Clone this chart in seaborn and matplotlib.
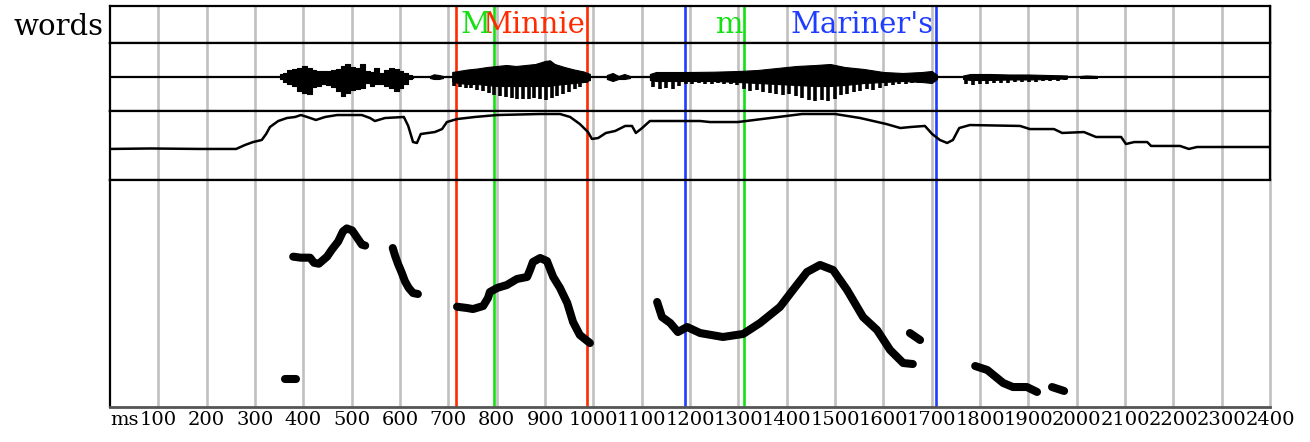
import numpy as np
import pandas as pd
import matplotlib
matplotlib.use("Agg")
import matplotlib.pyplot as plt
import seaborn as sns

sns.set_theme(style="white")
plt.rcParams["font.family"] = ["DejaVu Serif"]

# ---- time axis -------------------------------------------------------------
tick_ms = list(range(0, 2401, 100))
tick_labels = ["ms"] + [str(v) for v in range(100, 2401, 100)]

# ---- annotation tiers (ms) --------------------------------------------------
word_labels = ["Minnie", "Mariner's"]
word_start = [716, 1190]
word_end = [987, 1709]
word_label_end = [983, 1705]
phone_labels = ["M", "m"]
phone_end = [795, 1312]
phone_label_end = [786, 1310]

RED, GREEN, BLUE = "#ff2a00", "#14e014", "#1f3dff"
word_colors = [RED, BLUE]

# ---- waveform: envelope (upper / lower body) per voiced stretch -------------
wave_pre_t = [352, 362, 372, 382, 392, 402, 412, 422, 432, 442, 452, 462, 472, 482, 492,
              502, 512, 522, 532, 542, 552, 562, 572, 582, 592, 602, 612, 622, 627]
wave_pre_up = [2.7, 4.5, 6.7, 8, 9, 11, 9, 7, 6, 6, 6, 7, 8, 11, 12.7,
               10, 9, 13, 6, 5, 9, 4, 7, 9, 7.7, 6, 4, 2, 1]
wave_pre_lo = [2, 4.5, 7, 9, 14, 15.7, 17, 10, 9, 7, 8, 10, 14, 19, 15.7,
               13, 12, 10.7, 6, 9, 7, 6.7, 9, 10.7, 14, 11, 7, 2, 1]

wave_minnie_t = [708, 720, 740, 760, 780, 800, 820, 840, 860, 880, 900, 910, 920, 940, 960, 980, 993]
wave_minnie_up = [5, 6, 7.5, 8.5, 10, 11, 12, 11, 12, 13, 16, 16.7, 13, 10, 7.5, 5.5, 3]
wave_minnie_lo = [4, 6, 7, 7, 8, 9, 9, 9, 9, 9, 9, 9, 8, 7, 6, 5, 3]

wave_mariner_t = [1117, 1130, 1160, 1200, 1250, 1300, 1340, 1380, 1420, 1460, 1490,
                  1520, 1560, 1600, 1640, 1680, 1700, 1711]
wave_mariner_up = [3, 5, 5, 5, 5.3, 6, 7, 9, 11, 12, 13, 10, 8, 5, 4, 5, 6, 2]
wave_mariner_lo = [3, 4, 4, 4, 4, 5, 6, 7, 8, 9, 9, 8, 6, 5, 4, 5, 6, 2]

wave_post_t = [1765, 1780, 1820, 1860, 1900, 1940, 1980]
wave_post_up = [1.5, 3, 3, 2.5, 2.5, 2, 1.5]
wave_post_lo = [2, 3, 3, 2.5, 2.5, 2, 1.5]

wave_blip1_t, wave_blip1_up, wave_blip1_lo = [662, 670, 680, 689], [1, 2.7, 2, 1], [1, 2, 2, 1]
wave_blip2_t, wave_blip2_up, wave_blip2_lo = [1028, 1040, 1052, 1064, 1076], [2, 4, 1, 3, 1], [2, 4, 2, 2, 1]
wave_blip3_t, wave_blip3_up, wave_blip3_lo = [2007, 2020, 2042], [1, 1.5, 1], [1, 1, 1]

# glottal pulse depths (negative peaks) across each vowel stretch
pulse_minnie_span = (712, 985)
pulse_minnie = [9, 10, 11, 11, 13, 14, 16, 18, 19, 20, 21, 22, 22, 22, 21, 22, 23, 21, 19, 17, 15, 12, 10, 6]
pulse_mariner_span = (1124, 1700)
pulse_mariner = [10, 12, 11, 12, 9, 7, 7, 6, 7, 7, 6, 7, 7, 8, 12, 14, 13, 15, 16, 17, 18, 17,
                 19, 21, 23, 24, 23, 24, 22, 18, 17, 15, 14, 12, 13, 11, 9, 8, 7, 7, 6, 6, 5, 4]
pulse_post_span = (1770, 1975)
pulse_post = [7, 8, 7, 7, 6, 6, 6, 5, 5, 5, 5, 4, 4, 4, 3]

# ---- intensity (dB) ----------------------------------------------------------
int_t = [0, 83, 186, 261, 279, 296, 314, 323, 331, 348, 366, 383, 395, 408, 426, 445, 470, 521,
         538, 548, 569, 608, 617, 627, 635, 643, 672, 687, 697, 718, 755, 801, 890, 931, 952,
         972, 989, 997, 1010, 1026, 1045, 1066, 1080, 1088, 1101, 1117, 1221, 1241, 1299, 1366,
         1432, 1500, 1552, 1606, 1635, 1657, 1686, 1701, 1717, 1732, 1744, 1757, 1779, 1883,
         1903, 1953, 1970, 2015, 2040, 2092, 2102, 2119, 2146, 2154, 2214, 2232, 2249, 2400]
int_db = [57.0, 57.4, 57.0, 57.0, 60.4, 63.0, 64.8, 70.0, 76.1, 81.3, 83.9, 84.8, 86.5, 84.8,
          82.2, 84.8, 86.5, 86.5, 83.9, 81.3, 83.9, 84.8, 77.0, 63.0, 62.2, 70.0, 71.7, 74.3,
          80.4, 83.0, 84.8, 86.5, 87.4, 87.4, 84.8, 78.7, 71.7, 65.7, 66.5, 70.9, 72.6, 77.0,
          77.0, 70.9, 75.2, 81.3, 81.3, 80.4, 80.4, 83.9, 87.4, 87.4, 83.9, 78.7, 75.2, 76.1,
          77.0, 70.0, 64.8, 62.2, 64.8, 75.2, 77.8, 77.0, 74.3, 74.3, 70.9, 71.7, 67.4, 67.4,
          61.3, 63.0, 63.0, 59.6, 59.6, 57.0, 58.7, 58.7]

# ---- pitch track (Hz), one list per voiced run -------------------------------
f0_runs_t = [
    [362, 385],
    [379, 395, 414, 422, 432, 449, 459, 472, 482, 490, 501, 511, 521, 528],
    [585, 590, 596, 603, 610, 618, 627, 637],
    [718, 739, 751, 772, 782, 786, 801, 821, 842, 863, 869, 875, 890, 904, 917, 931, 946, 958, 972, 993],
    [1132, 1142, 1159, 1175, 1194, 1221, 1268, 1310, 1345, 1386, 1413, 1442, 1469, 1496, 1525,
     1558, 1587, 1614, 1641, 1661],
    [1655, 1676],
    [1790, 1815, 1848, 1868, 1897, 1918],
    [1949, 1974],
]
f0_runs_hz = [
    [102.8, 102.8],
    [224, 223, 223, 218, 217, 224, 231, 239, 249, 252, 250, 243, 236, 235],
    [232.6, 224.7, 216.7, 208.8, 199.9, 193, 188, 187],
    [174.4, 173.1, 172.1, 175.1, 183, 189, 193, 195.9, 201.9, 203.9, 210.8, 218.7, 222.7, 219.7,
     203.9, 193, 178.1, 159.3, 146.4, 138.4],
    [179.1, 164.2, 158.3, 149.3, 154.3, 148.3, 144.4, 147.4, 158.3, 174.1, 191, 208.8, 215.8,
     210.8, 191, 164.2, 151.3, 131.5, 118.6, 117.6],
    [148.3, 141.4],
    [115.6, 111.7, 98.8, 94.8, 94.8, 89.9],
    [94.8, 90.9],
]

pitch_df = pd.concat(
    [pd.DataFrame({"t": t, "hz": h, "run": i}) for i, (t, h) in enumerate(zip(f0_runs_t, f0_runs_hz))],
    ignore_index=True,
)
int_df = pd.DataFrame({"t": int_t, "db": int_db})

# ---- layout -------------------------------------------------------------------
W, H = 1310, 442
fig = plt.figure(figsize=(W / 100, H / 100), dpi=100)
fig.patch.set_facecolor("white")
L, R = 110 / W, 1270 / W


def panel(top_px, bottom_px):
    return fig.add_axes([L, 1 - bottom_px / H, R - L, (bottom_px - top_px) / H])


ax_words = panel(6, 43)
ax_wave = panel(43, 111)
ax_int = panel(111, 180)
ax_f0 = panel(180, 407)
axes = [ax_words, ax_wave, ax_int, ax_f0]

GRID = "#c0c0c0"
for ax in axes:
    ax.set_xlim(0, 2400)
    ax.set_facecolor("white")
    for v in tick_ms[1:]:
        ax.axvline(v, color=GRID, lw=1.9, zorder=0, clip_on=False)
    for s, e, c in zip(word_start, word_end, word_colors):
        ax.axvline(s, color=c, lw=1.9, zorder=1)
        ax.axvline(e, color=c, lw=1.9, zorder=1)
    for e in phone_end:
        ax.axvline(e, color=GREEN, lw=1.9, zorder=1)
    for sp in ax.spines.values():
        sp.set_color("black")
        sp.set_linewidth(1.6)

# words tier
ax_words.set_ylim(0, 1)
for lab, x, c in zip(word_labels, word_label_end, word_colors):
    ax_words.text(x, 0.27, lab, color=c, ha="right", va="baseline", fontsize=21, zorder=3)
for lab, x in zip(phone_labels, phone_label_end):
    ax_words.text(x, 0.27, lab, color=GREEN, ha="right", va="baseline", fontsize=21, zorder=3)
fig.text(103 / W, 1 - 27 / H, "words", ha="right", va="center", fontsize=21, color="black")

# waveform: finely sampled stretch drawn stepwise, smoother envelopes drawn linearly
ax_wave.set_ylim(-34, 34)
ax_wave.axhline(0, color="black", lw=1.6, zorder=2)
for t, up, lo, step in [
    (wave_pre_t, wave_pre_up, wave_pre_lo, "mid"),
    (wave_blip1_t, wave_blip1_up, wave_blip1_lo, None),
    (wave_minnie_t, wave_minnie_up, wave_minnie_lo, None),
    (wave_blip2_t, wave_blip2_up, wave_blip2_lo, None),
    (wave_mariner_t, wave_mariner_up, wave_mariner_lo, None),
    (wave_post_t, wave_post_up, wave_post_lo, None),
    (wave_blip3_t, wave_blip3_up, wave_blip3_lo, None),
]:
    ax_wave.fill_between(t, np.array(up), -np.array(lo), step=step, color="black", lw=0.8,
                         edgecolor="black", zorder=3)
for (a, b), depths in [(pulse_minnie_span, pulse_minnie),
                       (pulse_mariner_span, pulse_mariner),
                       (pulse_post_span, pulse_post)]:
    pt = np.linspace(a, b, len(depths))
    ax_wave.vlines(pt, -np.array(depths, dtype=float), 0, color="black", lw=2.6, zorder=3)

# intensity
ax_int.set_ylim(30, 90)
sns.lineplot(data=int_df, x="t", y="db", ax=ax_int, color="black", lw=1.8,
             estimator=None, sort=False, zorder=3)

# pitch
ax_f0.set_ylim(75, 300)
sns.lineplot(data=pitch_df, x="t", y="hz", units="run", estimator=None, sort=False,
             ax=ax_f0, color="black", lw=5.8, solid_capstyle="round",
             solid_joinstyle="round", zorder=3, legend=False)
ax_f0.spines["right"].set_visible(False)
ax_f0.spines["bottom"].set_color("#555555")
ax_f0.spines["bottom"].set_linewidth(2)

for ax in axes:
    ax.set_yticks([])
    ax.set_ylabel("")
    ax.set_xlabel("")
for ax in axes[:3]:
    ax.set_xticks([])

ax_f0.set_xticks(tick_ms)
ax_f0.set_xticklabels(tick_labels)
ax_f0.tick_params(axis="x", length=0, pad=3, labelsize=14, colors="black")
ax_f0.get_xticklabels()[0].set_horizontalalignment("left")

fig.savefig("out.png", dpi=100, facecolor="white")
